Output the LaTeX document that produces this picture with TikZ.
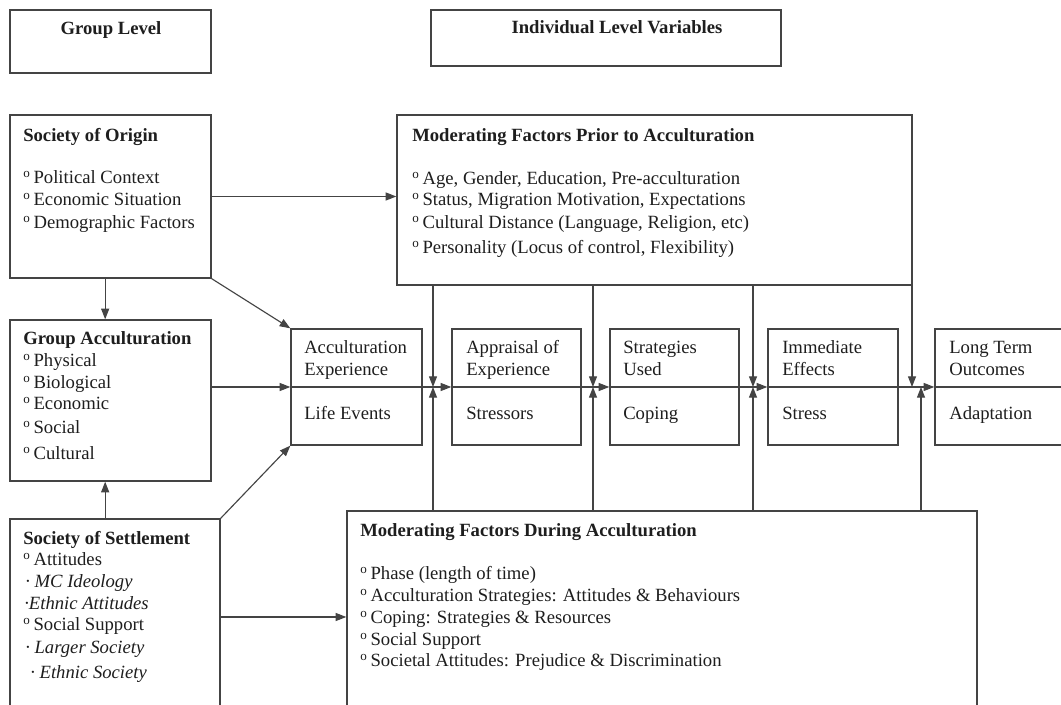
\documentclass[tikz,border=0pt]{standalone}
\usepackage{fontspec}
\setmainfont{Liberation Serif}
\usetikzlibrary{arrows.meta,fit}
\definecolor{linec}{HTML}{444444}
\definecolor{textc}{HTML}{1E1E1E}
\newcommand{\dg}{\textsuperscript{o}\,}
\tikzset{
  box/.style={draw=linec,line width=1pt,inner sep=0pt},
  txt/.style={anchor=base west,inner sep=0pt,text=textc,font=\fontsize{14}{16.5}\selectfont},
  hd/.style={txt,font=\fontsize{14}{16.5}\selectfont\bfseries},
  itx/.style={txt,font=\fontsize{14}{16.5}\selectfont\itshape},
  arr/.style={draw=linec,line width=0.85pt,-{Triangle[length=8pt,width=6pt]}},
  ln/.style={draw=linec,line width=0.85pt}}
\begin{document}
\begin{tikzpicture}[x=0.75pt,y=-0.75pt]
\useasboundingbox (0,0) rectangle (1061,705);
\fill[white] (0,0) rectangle (1061,705);
\clip (0,0) rectangle (1061,705);

% boxes
\node[box,fit={(10,10) (211,73)}] (gl) {};
\node[box,fit={(431,10) (781,66)}] (ilv) {};
\node[box,fit={(10,115) (211,278)}] (soo) {};
\node[box,fit={(10,320) (211,481)}] (ga) {};
\node[box,fit={(10,519) (220,740)}] (sos) {};
\node[box,fit={(397,115) (912,285)}] (prior) {};
\node[box,fit={(291,329) (422,445)}] (ae) {};
\node[box,fit={(452,329) (581,445)}] (ap) {};
\node[box,fit={(610,329) (739,445)}] (su) {};
\node[box,fit={(768,329) (898,445)}] (ie) {};
\node[box,fit={(935,329) (1100,445)}] (lt) {};
\node[box,fit={(347,511) (977,740)}] (dur) {};

% header texts
\node[hd,anchor=base] (tgl) at (111,35) {Group Level};
\node[hd,anchor=base] (tilv) at (617,34) {Individual Level Variables};

% Society of Origin
\node[hd] (soo0) at (23,142) {Society of Origin};
\node[txt] (soo1) at (23,184) {\dg Political Context};
\node[txt] (soo2) at (23,206) {\dg Economic Situation};
\node[txt] (soo3) at (23,229) {\dg Demographic Factors};

% Group Acculturation
\node[hd] (ga0) at (23,345) {Group Acculturation};
\node[txt] (ga1) at (23,367) {\dg Physical};
\node[txt] (ga2) at (23,389) {\dg Biological};
\node[txt] (ga3) at (23,410) {\dg Economic};
\node[txt] (ga4) at (23,434) {\dg Social};
\node[txt] (ga5) at (23,460) {\dg Cultural};

% Society of Settlement
\node[hd] (sos0) at (23,545) {Society of Settlement};
\node[txt] (sos1) at (23,566) {\dg Attitudes};
\node[itx] (sos2) at (25,588) {\textperiodcentered\ MC Ideology};
\node[itx] (sos3) at (24,610) {\textperiodcentered Ethnic Attitudes};
\node[txt] (sos4) at (23,631) {\dg Social Support};
\node[itx] (sos5) at (25,654) {\textperiodcentered\ Larger Society};
\node[itx] (sos6) at (30,679) {\textperiodcentered\ Ethnic Society};

% Prior
\node[hd] (pr0) at (412,142) {Moderating Factors Prior to Acculturation};
\node[txt] (pr1) at (412,185) {\dg Age, Gender, Education, Pre-acculturation};
\node[txt] (pr2) at (412,206) {\dg Status, Migration Motivation, Expectations};
\node[txt] (pr3) at (412,229) {\dg Cultural Distance (Language, Religion, etc)};
\node[txt] (pr4) at (412,254) {\dg Personality (Locus of control, Flexibility)};

% middle boxes text
\node[txt] (ae1) at (304,354) {Acculturation};
\node[txt] (ae2) at (304,376) {Experience};
\node[txt] (ae3) at (304,420) {Life Events};
\node[txt] (ap1) at (466,354) {Appraisal of};
\node[txt] (ap2) at (466,376) {Experience};
\node[txt] (ap3) at (466,420) {Stressors};
\node[txt] (su1) at (623,354) {Strategies};
\node[txt] (su2) at (623,376) {Used};
\node[txt] (su3) at (623,420) {Coping};
\node[txt] (ie1) at (782,354) {Immediate};
\node[txt] (ie2) at (782,376) {Effects};
\node[txt] (ie3) at (782,420) {Stress};
\node[txt] (lt1) at (949,354) {Long Term};
\node[txt] (lt2) at (949,376) {Outcomes};
\node[txt] (lt3) at (949,420) {Adaptation};

% During
\node[hd] (du0) at (360,537) {Moderating Factors During Acculturation};
\node[txt] (du1) at (360,580) {\dg Phase (length of time)};
\node[txt] (du2) at (360,602) {\dg Acculturation Strategies: Attitudes \& Behaviours};
\node[txt] (du3) at (360,624) {\dg Coping: Strategies \& Resources};
\node[txt] (du4) at (360,646) {\dg Social Support};
\node[txt] (du5) at (360,667) {\dg Societal Attitudes: Prejudice \& Discrimination};

% junction coordinates
\coordinate (j1) at (433,387);
\coordinate (j2) at (593,387);
\coordinate (j3) at (753,387);
\coordinate (j4) at (912,387);
\coordinate (j5) at (921,387);
\coordinate (s1) at (220,617);

% connectors
\draw[arr] (soo.east) -- (soo.east -| prior.west);
\draw[arr] ([xshift=-4pt]soo.south) -- ([xshift=-4pt]ga.north);
\draw[arr] ([xshift=-4pt]ga.south |- sos.north) -- ([xshift=-4pt]ga.south);
\draw[arr] (soo.south east) -- (ae.north west);
\draw[arr] (sos.north east) -- (ae.south west);
\draw[arr] (ga.east |- ae.west) -- (ae.west);
\draw[arr] (sos.east |- s1) -- (dur.west |- s1);

\draw[ln] (ae.west) -- (ae.east);
\draw[arr] (ae.east) -- (ap.west);
\draw[ln] (ap.west) -- (ap.east);
\draw[arr] (ap.east) -- (su.west);
\draw[ln] (su.west) -- (su.east);
\draw[arr] (su.east) -- (ie.west);
\draw[ln] (ie.west) -- (ie.east);
\draw[arr] (ie.east) -- (lt.west);
\draw[ln] (lt.west) -- (lt.east);

\draw[arr] (prior.south -| j1) -- (j1);
\draw[arr] (prior.south -| j2) -- (j2);
\draw[arr] (prior.south -| j3) -- (j3);
\draw[arr] (prior.south -| j4) -- (j4);
\draw[arr] (dur.north -| j1) -- (j1);
\draw[arr] (dur.north -| j2) -- (j2);
\draw[arr] (dur.north -| j3) -- (j3);
\draw[arr] (dur.north -| j5) -- (j5);
\end{tikzpicture}
\end{document}
